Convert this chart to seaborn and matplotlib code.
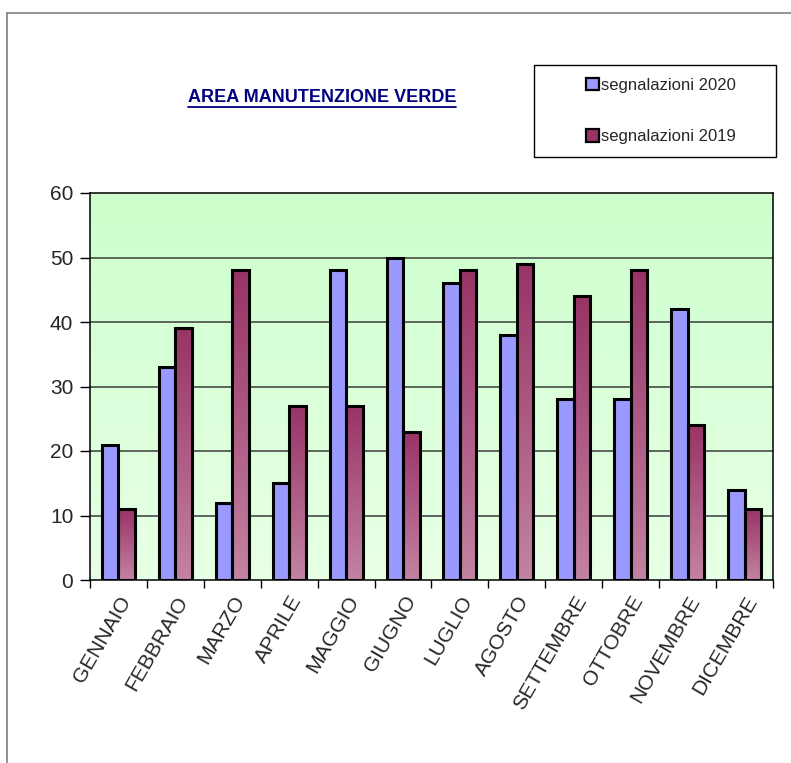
import numpy as np
import pandas as pd
import matplotlib
matplotlib.use("Agg")
import matplotlib.pyplot as plt
import matplotlib.transforms as mtransforms
from matplotlib.patches import Rectangle
from matplotlib.lines import Line2D
from matplotlib.colors import LinearSegmentedColormap
import seaborn as sns

months = ["GENNAIO", "FEBBRAIO", "MARZO", "APRILE", "MAGGIO", "GIUGNO",
          "LUGLIO", "AGOSTO", "SETTEMBRE", "OTTOBRE", "NOVEMBRE", "DICEMBRE"]
series_names = ["segnalazioni 2020", "segnalazioni 2019"]
values_2020 = [21, 33, 12, 15, 48, 50, 46, 38, 28, 28, 42, 14]
values_2019 = [11, 39, 48, 27, 27, 23, 48, 49, 44, 48, 24, 11]
y_ticks = [0, 10, 20, 30, 40, 50, 60]
title = "AREA MANUTENZIONE VERDE"

df = pd.DataFrame({
    "mese": months * 2,
    "serie": [series_names[0]] * 12 + [series_names[1]] * 12,
    "valore": values_2020 + values_2019,
})

sns.set_style("white")
plt.rcParams["font.family"] = ["Liberation Sans", "DejaVu Sans"]

W, H = 791, 763
fig = plt.figure(figsize=(W / 100, H / 100), dpi=100)
ax = fig.add_axes([90 / W, 1 - 580 / H, 683 / W, 387 / H])

blue = "#9999FF"
plum_top = "#993366"
plum_bot = "#C383A3"

sns.barplot(data=df, x="mese", y="valore", hue="serie", hue_order=series_names,
            order=months, palette=[blue, plum_top], width=0.58, gap=0,
            edgecolor="black", linewidth=2.2, saturation=1, legend=False,
            ax=ax, zorder=3)

# green plot-area background fading lighter toward the bottom
bg = LinearSegmentedColormap.from_list("bg", ["#E8FFE6", "#CCFFCC"])
grad = np.linspace(0, 1, 256).reshape(-1, 1)
ax.imshow(grad, cmap=bg, origin="lower", extent=[-0.5, 11.5, 0, 60],
          aspect="auto", zorder=0)

# 2019 bars: vertical plum gradient clipped to each bar
plum = LinearSegmentedColormap.from_list("plum", [plum_bot, plum_top])
for bar in ax.containers[1]:
    x0, y0 = bar.get_x(), bar.get_y()
    w, h = bar.get_width(), bar.get_height()
    im = ax.imshow(grad, cmap=plum, origin="lower",
                   extent=[x0, x0 + w, y0, y0 + h], aspect="auto", zorder=2.5)
    im.set_clip_path(bar)
    bar.set_facecolor("none")
ax.set_xlim(-0.5, 11.5)
ax.set_ylim(0, 60)

# horizontal gridlines
for yv in y_ticks[1:-1]:
    ax.axhline(yv, color="#3a3a3a", lw=1.1, zorder=1)

for s in ax.spines.values():
    s.set_visible(True)
    s.set_color("black")
    s.set_linewidth(1.1)

ax.set_yticks(y_ticks)
ax.set_yticklabels([str(v) for v in y_ticks], fontsize=15)
ax.set_xticks(np.arange(len(months)))
ax.set_xticklabels(months, rotation=60, ha="right", rotation_mode="anchor",
                   fontsize=15)
shift = mtransforms.ScaledTranslation(-5 / 100, 0, fig.dpi_scale_trans)
for lbl in ax.get_xticklabels():
    lbl.set_transform(lbl.get_transform() + shift)
ax.tick_params(axis="y", which="major", direction="out", length=7, width=1,
               color="black", left=True, pad=5)
ax.tick_params(axis="x", which="major", length=0, pad=9)
# tick marks at category boundaries
ax.set_xticks(np.arange(-0.5, 12, 1), minor=True)
ax.tick_params(axis="x", which="minor", direction="out", length=6, width=1,
               color="black", bottom=True)
ax.set_xlabel("")
ax.set_ylabel("")

# title with underline
t = fig.text(322 / W, 1 - 97 / H, title, ha="center", va="center",
             fontsize=13, fontweight="bold", color="#000080")
fig.canvas.draw()
bb = t.get_window_extent()
fig.add_artist(Line2D([bb.x0 / W, bb.x1 / W], [(bb.y0 - 1) / H, (bb.y0 - 1) / H],
                      color="#000080", lw=1.3, transform=fig.transFigure))

# legend box
fig.add_artist(Rectangle((534 / W, 1 - 157 / H), 242 / W, 92 / H,
                         transform=fig.transFigure, facecolor="white",
                         edgecolor="black", lw=1, zorder=4))
handles = [Rectangle((0, 0), 1, 1, facecolor=blue, edgecolor="black", lw=1.6),
           Rectangle((0, 0), 1, 1, facecolor=plum_top, edgecolor="black", lw=1.6)]
leg = fig.legend(handles, series_names, loc="center left",
                 bbox_to_anchor=(586 / W, 1 - 111 / H), bbox_transform=fig.transFigure,
                 frameon=False, handlelength=0.75, handleheight=0.75,
                 handletextpad=0.15, labelspacing=2.2, borderpad=0,
                 borderaxespad=0, prop={"size": 12})
leg.set_zorder(5)

# outer chart frame
fig.add_artist(Line2D([7 / W, 7 / W], [0, 1 - 13 / H], color="#808080", lw=1.2,
                      transform=fig.transFigure))
fig.add_artist(Line2D([7 / W, 1], [1 - 13 / H, 1 - 13 / H], color="#808080", lw=1.2,
                      transform=fig.transFigure))

fig.savefig("out.png", dpi=100, facecolor="white")
